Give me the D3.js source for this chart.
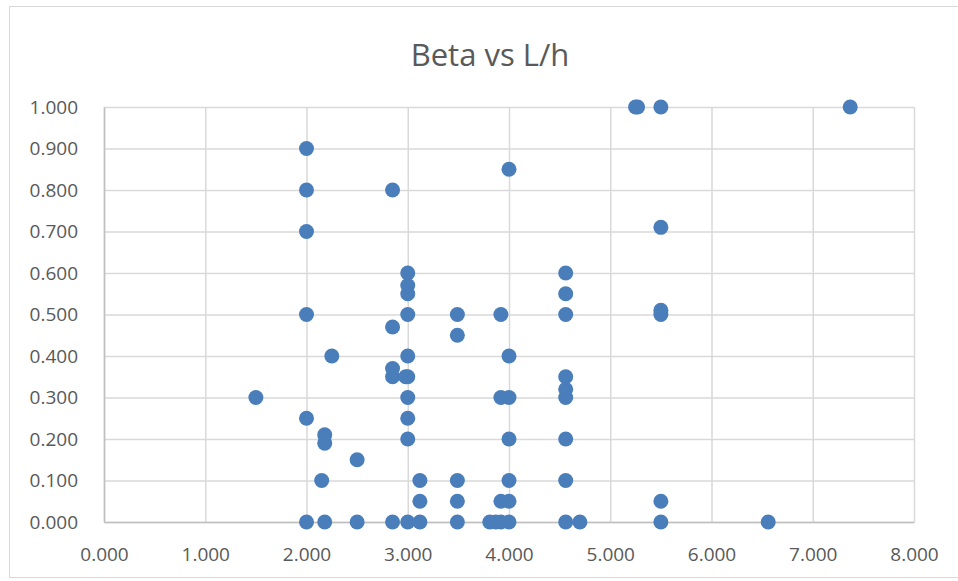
<!DOCTYPE html>
<html>
<head>
<meta charset="utf-8">
<script src="https://cdn.jsdelivr.net/npm/d3@7"></script>
<style>
    body { margin: 0; background: #ffffff; }
    .frame { fill: none; stroke: #d9d9d9; stroke-width: 1; }
    .grid line { stroke: #d9d9d9; stroke-width: 1.5; }
    .grid .domain { display: none; }
    .axis .domain { stroke: #bfbfbf; stroke-width: 1.5; }
    .axis line { display: none; }
    .axis text { fill: #595959; font-family: "Open Sans", sans-serif; font-size: 19px; }
    .chart-title { fill: #595959; font-family: "Open Sans", sans-serif; font-size: 31px; font-weight: 400; }
    .dot { fill: #4a7ebb; }
</style>
</head>
<body>
<div id="chart"></div>
<script>
    // Tick values for both axes.
const xTicks = [0, 1, 2, 3, 4, 5, 6, 7, 8];
const yTicks = [0, 0.1, 0.2, 0.3, 0.4, 0.5, 0.6, 0.7, 0.8, 0.9, 1.0];

    // L/h values (top to bottom).
const lh = [
    5.25, 5.27, 5.5, 7.37,
    2.0,
    4.0,
    2.0, 2.85,
    5.5,
    2.0,
    3.0, 4.56,
    3.0,
    3.0, 4.56,
    5.5,
    2.0, 3.0, 3.49, 3.92, 4.56, 5.5,
    2.85,
    3.49,
    2.25, 3.0, 4.0,
    2.85,
    2.85, 2.98, 3.0, 4.56,
    4.56,
    1.5, 3.0, 3.92, 4.0, 4.56,
    2.0, 3.0,
    2.18,
    3.0, 4.0, 4.56,
    2.18,
    2.5,
    2.15, 3.12, 3.49, 4.0, 4.56,
    3.12, 3.49, 3.92, 4.0, 5.5,
    2.0, 2.18, 2.5, 2.85, 3.0, 3.12, 3.49, 3.81, 3.87, 3.92, 4.0, 4.56, 4.7, 5.5, 6.56
];

    // Beta values, same order as lh.
const beta = [
    1.0, 1.0, 1.0, 1.0,
    0.9,
    0.85,
    0.8, 0.8,
    0.71,
    0.7,
    0.6, 0.6,
    0.57,
    0.55, 0.55,
    0.51,
    0.5, 0.5, 0.5, 0.5, 0.5, 0.5,
    0.47,
    0.45,
    0.4, 0.4, 0.4,
    0.37,
    0.35, 0.35, 0.35, 0.35,
    0.32,
    0.3, 0.3, 0.3, 0.3, 0.3,
    0.25, 0.25,
    0.21,
    0.2, 0.2, 0.2,
    0.19,
    0.15,
    0.1, 0.1, 0.1, 0.1, 0.1,
    0.05, 0.05, 0.05, 0.05, 0.05,
    0, 0, 0, 0, 0, 0, 0, 0, 0, 0, 0, 0, 0, 0, 0
];

const width = 958;
const height = 581;
const margin = { top: 107, right: 44, bottom: 59, left: 104 };
const innerWidth = width - margin.left - margin.right;
const innerHeight = height - margin.top - margin.bottom;

const svg = d3.select("#chart")
    .append("svg")
    .attr("width", width)
    .attr("height", height);

    // Outer chart border: top, left and bottom only, the right edge runs off the picture.
svg.append("path")
    .attr("class", "frame")
    .attr("d", `M${width},6.5H9.5V577.5H${width}`);

const chart = svg.append("g")
    .attr("transform", `translate(${margin.left}, ${margin.top})`);

const x = d3.scaleLinear().domain([0, 8]).range([0, innerWidth]);
const y = d3.scaleLinear().domain([0, 1]).range([innerHeight, 0]);

    // Gridlines in both directions.
chart.append("g")
    .attr("class", "grid")
    .call(d3.axisLeft(y).tickValues(yTicks).tickSize(-innerWidth).tickFormat(""));

chart.append("g")
    .attr("class", "grid")
    .attr("transform", `translate(0, ${innerHeight})`)
    .call(d3.axisBottom(x).tickValues(xTicks).tickSize(-innerHeight).tickFormat(""));

    // Axes with three-decimal labels.
chart.append("g")
    .attr("class", "axis")
    .attr("transform", `translate(0, ${innerHeight})`)
    .call(d3.axisBottom(x).tickValues(xTicks).tickSizeOuter(0).tickPadding(20).tickFormat(d3.format(".3f")));

chart.append("g")
    .attr("class", "axis")
    .call(d3.axisLeft(y).tickValues(yTicks).tickSizeOuter(0).tickPadding(20).tickFormat(d3.format(".3f")));

    // One dot per observation.
chart.selectAll(".dot")
    .data(d3.zip(lh, beta))
    .join("circle")
    .attr("class", "dot")
    .attr("cx", d => x(d[0]))
    .attr("cy", d => y(d[1]))
    .attr("r", 7.5);

svg.append("text")
    .attr("class", "chart-title")
    .attr("x", 490)
    .attr("y", 66)
    .attr("text-anchor", "middle")
    .text("Beta vs L/h");
</script>
</body>
</html>
